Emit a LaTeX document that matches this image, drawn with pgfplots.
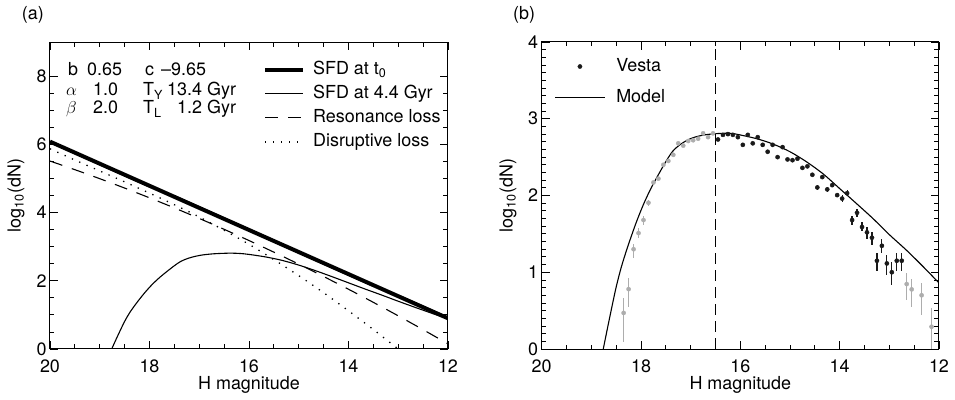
\documentclass[border=0pt]{standalone}
\usepackage{fontspec}
\setmainfont{TeX Gyre Heros}
\usepackage{pgfplots}
\usepackage{pgfplotstable}
\pgfplotsset{compat=1.18}

\pgfplotstableread{
h y ep em
18.35 0.47 0.19 0.38
18.25 0.78 0.14 0.23
18.15 1.30 0.07 0.11
18.05 1.51 0.07 0.07
17.95 1.68 0.05 0.06
17.85 1.905 0.04 0.04
17.75 2.17 0 0
17.65 2.22 0 0
17.55 2.40 0 0
17.45 2.45 0 0
17.35 2.53 0 0
17.25 2.68 0 0
17.15 2.65 0 0
17.05 2.71 0 0
16.95 2.72 0 0
16.85 2.74 0 0
16.75 2.81 0 0
16.65 2.76 0 0
16.55 2.81 0 0
12.65 0.846 0.14 0.21
12.55 0.777 0.14 0.23
12.35 0.70 0.16 0.26
12.15 0.29 0.24 0.29
}\graydata

\pgfplotstableread{
h y ep em
16.45 2.73 0 0
16.35 2.79 0 0
16.25 2.80 0 0
16.15 2.79 0 0
16.05 2.76 0 0
15.95 2.66 0 0
15.85 2.79 0 0
15.75 2.68 0 0
15.65 2.76 0 0
15.55 2.66 0 0
15.45 2.57 0 0
15.35 2.66 0 0
15.25 2.50 0 0
15.15 2.63 0 0
15.05 2.47 0 0
14.95 2.46 0 0
14.85 2.48 0 0
14.75 2.36 0 0
14.65 2.38 0 0
14.55 2.27 0.02 0.02
14.45 2.105 0.03 0.03
14.35 2.24 0.03 0.03
14.25 2.08 0.03 0.03
14.15 2.135 0.03 0.03
14.05 2.005 0.03 0.03
13.95 1.96 0.04 0.04
13.85 2.03 0.04 0.04
13.75 1.68 0.05 0.07
13.65 1.775 0.05 0.05
13.55 1.59 0.06 0.05
13.45 1.52 0.07 0.09
13.35 1.45 0.08 0.09
13.25 1.15 0.10 0.14
13.15 1.345 0.09 0.10
13.05 1.115 0.11 0.15
12.95 1.00 0.14 0.17
12.85 1.15 0.10 0.14
12.75 1.15 0.10 0.14
}\blackdata

\pgfplotstableread{
h y
18.76 0
18.66 0.32
18.51 0.78
18.40 1.06
18.29 1.29
18.19 1.48
18.09 1.66
17.96 1.87
17.84 2.04
17.72 2.19
17.52 2.42
17.37 2.57
17.22 2.66
17.07 2.72
16.92 2.76
16.72 2.79
16.51 2.805
16.35 2.81
16.18 2.81
16.01 2.79
15.67 2.74
15.34 2.67
15.00 2.57
14.67 2.44
14.33 2.28
14.00 2.09
13.67 1.90
13.33 1.70
13.00 1.49
12.66 1.29
12.33 1.08
12.00 0.86
}\model

\pgfplotstableread{
h y
18.76 0
18.66 0.32
18.51 0.78
18.40 1.06
18.29 1.29
18.19 1.48
18.09 1.66
17.96 1.87
17.84 2.04
17.72 2.19
17.52 2.42
17.37 2.57
17.22 2.66
17.07 2.72
16.92 2.76
16.72 2.79
16.51 2.805
16.35 2.81
16.18 2.80
16.01 2.775
15.67 2.70
15.34 2.60
15.00 2.46
14.67 2.30
14.33 2.12
14.00 1.94
13.67 1.76
13.33 1.58
13.00 1.40
12.66 1.22
12.33 1.05
12.00 0.88
}\sfdnow

\pgfplotstableread{
h y
20.0 5.510
19.5 5.257
19.0 4.993
18.5 4.718
18.0 4.432
17.5 4.136
17.0 3.828
16.5 3.509
16.0 3.180
15.5 2.839
15.0 2.488
14.5 2.125
14.0 1.752
13.5 1.367
13.0 0.972
12.5 0.566
12.0 0.150
}\resonance

\pgfplotstableread{
h y
20.0 5.87
19.5 5.54
19.0 5.22
18.5 4.90
18.0 4.57
17.5 4.23
17.0 3.87
16.5 3.48
16.0 3.07
15.5 2.62
15.0 2.15
14.5 1.65
14.0 1.12
13.5 0.57
13.0 0.00
12.8 -0.23
}\disruptive

\pgfplotsset{
  panel/.style={
    scale only axis, height=307bp,
    xmin=12, xmax=20, x dir=reverse,
    xtick={12,14,16,18,20}, minor x tick num=3,
    tick align=inside, major tick length=8bp, minor tick length=4.5bp,
    axis line style={line width=1bp},
    every tick/.style={black, line width=0.8bp},
    /pgf/number format/assume math mode=true,
    tick label style={font=\fontsize{18}{21}\selectfont},
    xticklabel style={anchor=base, yshift=-23.7bp},
    label style={font=\fontsize{18}{21}\selectfont},
    xlabel={H magnitude},
    ylabel={log\textsubscript{10}(dN)},
    every axis x label/.style={at={(axis description cs:0.5,0)}, anchor=base, yshift=-40bp},
  },
}

\begin{document}
\begin{tikzpicture}[font=\fontsize{18}{21}\selectfont]
\useasboundingbox (0bp,0bp) rectangle (955bp,400bp);

% ---------------- panel (a)
\begin{axis}[panel,
  at={(50bp,51bp)}, anchor=south west, width=398bp,
  ymin=0, ymax=9, ytick={0,2,4,6,8}, minor y tick num=3,
  every axis y label/.style={at={(axis description cs:-0.0854,0.5)}, rotate=90, anchor=center},
  legend style={draw=none, fill=none, inner sep=0pt, at={(axis description cs:0.535,0.944)}, anchor=north west,
    nodes={inner sep=2bp, text height=13bp, text depth=4bp}, row sep=3bp, column sep=6bp,
    font=\fontsize{18}{21}\selectfont},
  legend cell align=left,
  legend image code/.code={\draw[#1] (0bp,0bp) -- (38bp,0bp);},
]
\addplot[black, line width=4bp] coordinates {(20,6.08) (16,3.49) (12,0.90)};
\addlegendentry{SFD at t\textsubscript{0}}
\addplot[black, line width=1.1bp, smooth] table[x=h,y=y] {\sfdnow};
\addlegendentry{SFD at 4.4 Gyr}
\addplot[black, line width=1.1bp, smooth, dash pattern=on 13bp off 10bp] table[x=h,y=y] {\resonance};
\addlegendentry{Resonance loss}
\addplot[black, line width=1.3bp, smooth, dash pattern=on 1.3bp off 6.7bp] table[x=h,y=y] {\disruptive};
\addlegendentry{Disruptive loss}
\end{axis}

% ---------------- panel (b)
\begin{axis}[panel,
  at={(541.7bp,51bp)}, anchor=south west, width=397.3bp,
  ymin=0, ymax=4, ytick={0,1,2,3,4}, minor y tick num=9,
  every axis y label/.style={at={(axis description cs:-0.0848,0.5)}, rotate=90, anchor=center},
  legend style={draw=none, fill=none, inner sep=0pt, at={(axis description cs:0.0327,0.955)}, anchor=north west,
    nodes={inner sep=2bp, text height=13bp, text depth=4bp}, row sep=10bp, column sep=9.3bp,
    font=\fontsize{18}{21}\selectfont},
  legend cell align=left,
  legend image code/.code={\draw[mark repeat=2, mark phase=2, #1] plot coordinates {(0bp,0bp) (24.5bp,0bp) (49bp,0bp)};},
]
\addplot[forget plot, only marks, color=black!32, mark=*, mark size=2.1bp,
  error bars/.cd, y dir=both, y explicit, error mark=none,
  error bar style={line width=1.2bp, black!32}]
  table[x=h, y=y, y error plus=ep, y error minus=em] {\graydata};
\addplot[only marks, color=black!90, mark=*, mark size=2.1bp,
  error bars/.cd, y dir=both, y explicit, error mark=none,
  error bar style={line width=1.2bp, black!90}]
  table[x=h, y=y, y error plus=ep, y error minus=em] {\blackdata};
\addlegendentry{Vesta}
\addplot[black, line width=1.1bp, smooth] table[x=h,y=y] {\model};
\addlegendentry{Model}
\addplot[forget plot, black, line width=1.1bp, dash pattern=on 11bp off 6bp] coordinates {(16.5,0) (16.5,4)};
\end{axis}

% panel labels and parameter text
\node[anchor=base west, inner sep=0pt] at (21.7bp,380bp) {(a)};
\node[anchor=base west, inner sep=0pt] at (513bp,380bp) {(b)};

\node[anchor=base west, inner sep=0pt] at (68bp,324bp) {b};
\node[anchor=base west, inner sep=0pt] at (87bp,324bp) {0.65};
\node[anchor=base west, inner sep=0pt] at (145bp,324bp) {c};
\node[anchor=base west, inner sep=0pt] at (161bp,324bp) {--9.65};
\node[anchor=base west, inner sep=0pt] at (66bp,304bp) {$\alpha$};
\node[anchor=base west, inner sep=0pt] at (93bp,304bp) {1.0};
\node[anchor=base west, inner sep=0pt] at (143bp,304bp) {T\textsubscript{Y}};
\node[anchor=base west, inner sep=0pt] at (167bp,304bp) {13.4 Gyr};
\node[anchor=base west, inner sep=0pt] at (66bp,286bp) {$\beta$};
\node[anchor=base west, inner sep=0pt] at (93bp,286bp) {2.0};
\node[anchor=base west, inner sep=0pt] at (143bp,286bp) {T\textsubscript{L}};
\node[anchor=base west, inner sep=0pt] at (177bp,286bp) {1.2 Gyr};
\end{tikzpicture}
\end{document}
